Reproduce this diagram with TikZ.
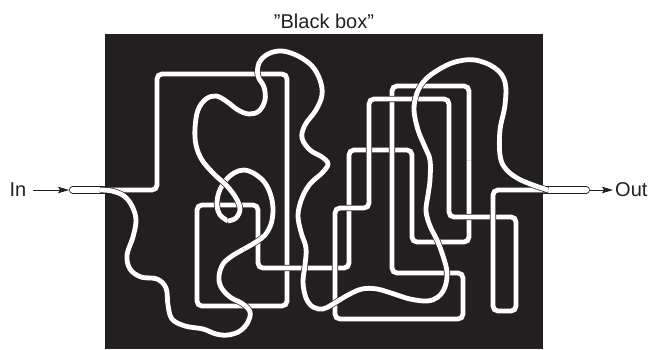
\documentclass[tikz,border=0pt]{standalone}
\usepackage{fontspec}
\setmainfont{Liberation Sans}
\usepackage{tikz}
\usetikzlibrary{arrows.meta}
\definecolor{boxblack}{RGB}{35, 31, 32}

\begin{document}
\begin{tikzpicture}[x=1pt, y=-1pt,
	pipe/.style={draw=boxblack, line width=0.7pt, double=white, double distance=4.8pt},
	wire/.style={pipe, rounded corners=5pt},
	tube/.style={draw=boxblack, line width=0.8pt, double=white, double distance=6.4pt, line cap=round},
	label/.style={text=boxblack, font=\fontsize{20}{24}\selectfont, inner sep=0pt},
	feed/.style={draw=boxblack, line width=0.9pt, -{Stealth[length=11pt, width=6.5pt, inset=2pt]}}]
	\useasboundingbox (0,0) rectangle (649,349);
	% the box and its title
	\fill[boxblack] (105,34) rectangle (543,349);
	\node[label] (title) at (324,21) {\symbol{34}Black box\symbol{34}};
	% feed in and out
	\node[label] (In) at (18,190) {In};
	\node[label, anchor=west] (Out) at (615,190) {Out};
	\coordinate (inend) at (69,190);
	\coordinate (outend) at (590,190);
	\draw[tube] (73,190) -- (108,190);
	\draw[tube] (540,190) -- (586,190);
	\draw[feed] ([xshift=6pt]In.east) -- (inend);
	\draw[feed] (outend) -- ([xshift=-2pt]Out.west);
	% square route
	\draw[wire] (100,190) -- (157,190) -- (157,74) -- (287,74) -- (287,200);
	\draw[wire] (287,200) -- (287,306) -- (240,306);
	\draw[wire] (240,306) -- (197,306) -- (197,205) -- (258,205) -- (258,268) -- (300,268);
	\draw[wire] (300,268) -- (349,268) -- (349,150) -- (412,150) -- (412,242) -- (469,242) -- (469,160);
	\draw[wire] (469,160) -- (469,86) -- (392,86) -- (392,180);
	\draw[wire] (392,180) -- (392,273) -- (463,273) -- (463,319) -- (335,319) -- (335,208) -- (369,208) -- (369,99) -- (420,99);
	\draw[wire] (420,99) -- (449,99) -- (449,217) -- (516,217) -- (516,260);
	\draw[wire] (516,260) -- (516,311) -- (493,311) -- (493,190) -- (548,190);
	% winding route
	\draw[pipe] plot[smooth, tension=0.6] coordinates {(100,190) (112,191) (124,196) (132,206) (136,220)
		(133,237) (127,255) (130,269) (141,277) (157,279) (166,288) (168,305) (172,319) (185,326)
		(203,329) (216,334) (228,335) (240,331) (248,322) (250,312) (243,304) (230,297) (221,287)
		(219,276) (223,264) (232,256) (244,249)};
	\draw[pipe] plot[smooth, tension=0.6] coordinates {(244,249) (256,242) (265,235) (271,224) (273,210)
		(271,196) (265,183) (255,174) (244,170) (234,173) (226,180) (219,192) (217,205) (220,215) (228,221)};
	\draw[pipe] plot[smooth, tension=0.6] coordinates {(228,221) (236,218) (240,209) (236,198) (227,186)
		(214,174) (202,160) (196,145) (195,128) (198,110) (206,99) (216,96) (226,101) (238,110)
		(249,114) (259,111) (265,100) (264,87) (258,76) (259,63) (268,54) (282,51) (298,56)
		(312,66) (320,80) (322,95) (316,110) (305,125) (302,138) (310,150) (322,157) (328,164)
		(322,173) (310,184) (302,198) (298,215) (301,232) (306,248) (305,265) (303,282) (306,298)
		(313,307) (323,309) (333,304) (348,295) (362,289) (377,289) (394,294) (410,299) (427,301)
		(438,297) (445,287) (447,272) (443,256) (437,240) (430,226) (426,211) (428,195) (430,180)
		(430,160) (425,147) (418,130) (414,110) (417,93) (425,80) (438,70) (455,62) (475,60)
		(495,68) (505,82) (505,105) (500,130) (500,155) (505,168) (517,178) (533,185) (548,190)};
\end{tikzpicture}
\end{document}
